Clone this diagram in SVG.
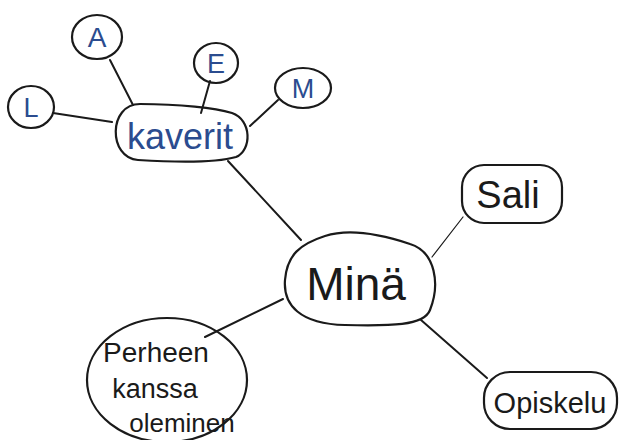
<svg xmlns="http://www.w3.org/2000/svg" width="627" height="440" viewBox="0 0 627 440">
<style>
.n{fill:none;stroke:#1a1a1a;stroke-width:2.2;stroke-linejoin:round}
.c{stroke:#1a1a1a;stroke-width:2;fill:none;stroke-linecap:round}
.thin{stroke-width:1.2}
.t{font-family:"Liberation Sans",Arial,sans-serif;fill:#1a1a1a;text-anchor:middle}
.b{fill:#2b4c8f}
</style>
<rect width="627" height="440" fill="#ffffff"/>
<g id="connectors">
<line class="c" x1="110" y1="60" x2="133" y2="105"/>
<line class="c" x1="210" y1="81" x2="201" y2="113"/>
<line class="c" x1="278" y1="100" x2="250" y2="126"/>
<line class="c" x1="53" y1="113" x2="112" y2="122"/>
<line class="c" x1="228" y1="161" x2="301" y2="240"/>
<line class="c thin" x1="432" y1="257" x2="463" y2="217"/>
<line class="c" x1="205" y1="337" x2="283" y2="299"/>
<line class="c" x1="421" y1="320" x2="487" y2="378"/>
</g>
<g id="node-A">
<ellipse class="n" cx="97" cy="37" rx="25" ry="22"/>
<text class="t b" x="97" y="47" font-size="28">A</text>
</g>
<g id="node-E">
<ellipse class="n" cx="216" cy="63" rx="22" ry="20"/>
<text class="t b" x="216" y="73" font-size="27">E</text>
</g>
<g id="node-M">
<ellipse class="n" cx="303" cy="88" rx="28" ry="20"/>
<text class="t b" x="303" y="98" font-size="27">M</text>
</g>
<g id="node-L">
<ellipse class="n" cx="31" cy="107" rx="23" ry="21"/>
<text class="t b" x="31" y="117" font-size="27">L</text>
</g>
<g id="node-kaverit">
<path class="n" d="M140,104 C180,104 215,108 232,113 C252,120 252,150 236,157 C215,163 170,162 138,160 C108,158 108,104 140,104 Z"/>
<text class="t b" x="180" y="149" font-size="36">kaverit</text>
</g>
<g id="node-mina">
<path class="n" d="M325,236 C350,228 380,234 410,244 C436,252 440,285 430,310 C424,326 390,326 345,325 C300,324 283,305 285,280 C287,255 300,244 325,236 Z"/>
<text class="t" x="356" y="300" font-size="46">Minä</text>
</g>
<g id="node-sali">
<rect class="n" x="462" y="165" width="100" height="58" rx="22"/>
<text class="t" x="508" y="208" font-size="38">Sali</text>
</g>
<g id="node-perheen">
<ellipse class="n" cx="167" cy="380" rx="80" ry="62"/>
<text class="t" x="156" y="362" font-size="28">Perheen</text>
<text class="t" x="155" y="398" font-size="27">kanssa</text>
<text class="t" x="182" y="432" font-size="26">oleminen</text>
</g>
<g id="node-opiskelu">
<rect class="n" x="484" y="372" width="133" height="57" rx="26"/>
<text class="t" x="550" y="413" font-size="29">Opiskelu</text>
</g>
</svg>
